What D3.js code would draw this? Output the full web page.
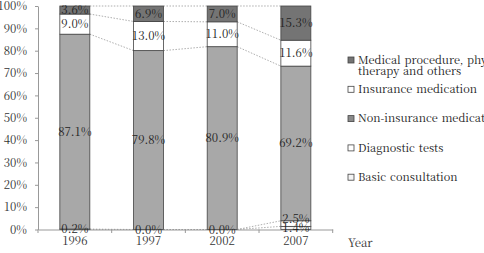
<!DOCTYPE html>
<html>
<head>
<meta charset="utf-8">
<script src="https://cdn.jsdelivr.net/npm/d3@7"></script>
<style>
  body { margin: 0; background: #fff; }
</style>
</head>
<body>
<svg width="484" height="253"></svg>
<script>
// Chart data (percent shares per year)
const years = ["1996", "1997", "2002", "2007"];
const medicalProcedure = [3.6, 6.9, 7.0, 15.3];
const insuranceMedication = [9.0, 13.0, 11.0, 11.6];
const nonInsuranceMedication = [87.1, 79.8, 80.9, 69.2];
const diagnosticTests = [0.2, 0.0, 0.0, 2.5];
const basicConsultation = [null, null, null, 1.4];

// Series, bottom of the stack first
const seriesKeys = ["basic", "diagnostic", "nonInsurance", "insurance", "medical"];
const seriesNames = {
  medical: "Medical procedure, physical\ntherapy and others",
  insurance: "Insurance medication",
  nonInsurance: "Non-insurance medication",
  diagnostic: "Diagnostic tests",
  basic: "Basic consultation"
};
const seriesColors = {
  medical: "#747474",
  insurance: "#ffffff",
  nonInsurance: "#a8a8a8",
  diagnostic: "#ffffff",
  basic: "#f4f4f4"
};
const legendOrder = ["medical", "insurance", "nonInsurance", "diagnostic", "basic"];

const serif = '"Noto Serif CJK KR", "Liberation Serif", serif';

const rows = years.map((year, i) => ({
  year: year,
  medical: medicalProcedure[i],
  insurance: insuranceMedication[i],
  nonInsurance: nonInsuranceMedication[i],
  diagnostic: diagnosticTests[i],
  basic: basicConsultation[i]
}));

const svg = d3.select("svg");

const x = d3.scaleBand()
  .domain(years)
  .range([38, 332.7])
  .paddingInner(0.593)
  .paddingOuter(0.2965);

const y = d3.scaleLinear().domain([0, 1]).range([229.5, 6]);

const stack = d3.stack()
  .keys(seriesKeys)
  .value((d, key) => d[key] == null ? 0 : d[key])
  .offset(d3.stackOffsetExpand);
const layers = stack(rows);

// Y axis
const yAxis = svg.append("g")
  .attr("transform", "translate(38,0)")
  .call(d3.axisLeft(y).ticks(10).tickFormat(d3.format(".0%")).tickSize(3).tickSizeOuter(0));
yAxis.select(".domain").attr("stroke", "#999");
yAxis.selectAll(".tick line").attr("stroke", "#999");
yAxis.selectAll(".tick text")
  .attr("x", -11)
  .attr("fill", "#333")
  .style("font-family", serif)
  .style("font-size", "11.5px");

// X axis (labels at band centres, ticks at band boundaries)
const xAxis = svg.append("g")
  .attr("transform", "translate(0,229.5)")
  .call(d3.axisBottom(x).tickSize(0).tickSizeOuter(0));
xAxis.select(".domain").attr("stroke", "#999");
xAxis.selectAll(".tick text")
  .attr("y", 7)
  .attr("fill", "#333")
  .style("font-family", serif)
  .style("font-size", "11.5px");

const boundaries = years.map(d => x(d) - x.step() * x.paddingInner() / 2)
  .concat([x(years[years.length - 1]) + x.bandwidth() + x.step() * x.paddingInner() / 2]);
svg.append("g").selectAll("line")
  .data(boundaries)
  .join("line")
  .attr("x1", d => d).attr("x2", d => d)
  .attr("y1", 229.5).attr("y2", 233)
  .attr("stroke", "#999");

svg.append("text")
  .attr("x", 348)
  .attr("y", 247)
  .attr("fill", "#333")
  .style("font-family", serif)
  .style("font-size", "11.5px")
  .text("Year");

// Dotted connector lines between segment tops
const connectors = [];
layers.forEach(layer => {
  for (let i = 0; i < layer.length - 1; i++) {
    connectors.push({
      x1: x(years[i]) + x.bandwidth(), y1: y(layer[i][1]),
      x2: x(years[i + 1]), y2: y(layer[i + 1][1])
    });
  }
});
svg.append("g").selectAll("line")
  .data(connectors)
  .join("line")
  .attr("x1", d => d.x1).attr("y1", d => d.y1)
  .attr("x2", d => d.x2).attr("y2", d => d.y2)
  .attr("stroke", "#999")
  .attr("stroke-width", 0.8)
  .attr("stroke-dasharray", "1.5,1.5");

// Stacked bars
svg.append("g").selectAll("g")
  .data(layers)
  .join("g")
  .attr("fill", d => seriesColors[d.key])
  .selectAll("rect")
  .data(d => d.filter(p => p[1] - p[0] > 0))
  .join("rect")
  .attr("x", d => x(d.data.year))
  .attr("width", x.bandwidth())
  .attr("y", d => y(d[1]))
  .attr("height", d => y(d[0]) - y(d[1]))
  .attr("stroke", "#444")
  .attr("stroke-width", 0.8);

// Value labels
const labels = [];
layers.forEach(layer => {
  layer.forEach(p => {
    const v = p.data[layer.key];
    if (v == null) return;
    let cy = (y(p[0]) + y(p[1])) / 2;
    if (layer.key === "diagnostic" && p.data.basic != null) cy -= 5;
    labels.push({ x: x(p.data.year) + x.bandwidth() / 2, y: cy, text: v.toFixed(1) + "%" });
  });
});
svg.append("g").selectAll("text")
  .data(labels)
  .join("text")
  .attr("x", d => d.x)
  .attr("y", d => d.y)
  .attr("dy", "0.35em")
  .attr("text-anchor", "middle")
  .attr("fill", "#222")
  .style("font-family", serif)
  .style("font-size", "11.5px")
  .text(d => d.text);

// Legend
const legend = svg.append("g").selectAll("g")
  .data(legendOrder)
  .join("g")
  .attr("transform", (d, i) => `translate(348,${60 + i * 29.3})`);
legend.append("rect")
  .attr("x", 0).attr("y", -3)
  .attr("width", 6).attr("height", 6)
  .attr("fill", d => seriesColors[d] === "#a8a8a8" ? "#8a8a8a" : seriesColors[d])
  .attr("stroke", "#444")
  .attr("stroke-width", 0.8);
legend.append("text")
  .attr("x", 10)
  .attr("fill", "#222")
  .style("font-family", serif)
  .style("font-size", "11px")
  .style("word-spacing", "1px")
  .selectAll("tspan")
  .data(d => seriesNames[d].split("\n"))
  .join("tspan")
  .attr("x", 10)
  .attr("dy", (d, i) => i === 0 ? "0.35em" : "11px")
  .text(d => d);
</script>
</body>
</html>
